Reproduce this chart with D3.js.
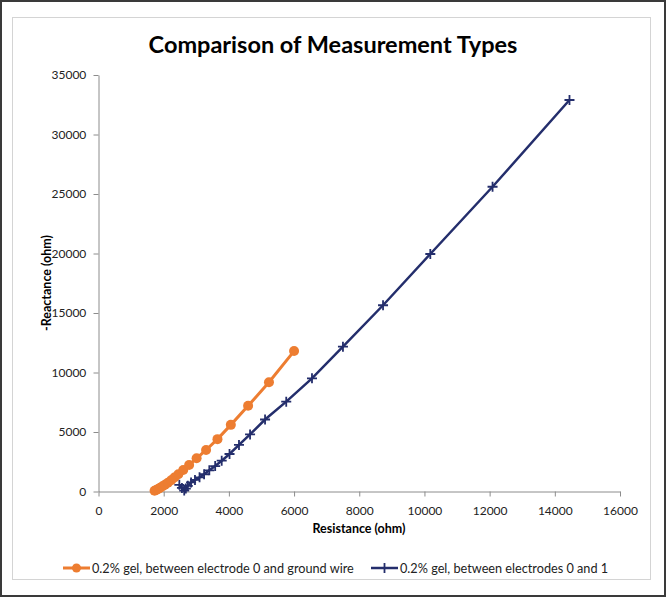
<!DOCTYPE html>
<html><head><meta charset="utf-8">
<script src="https://cdn.jsdelivr.net/npm/d3@7"></script>
<style>
html,body{margin:0;padding:0;background:#fff;}
svg{display:block;}
text{font-family:Lato,"Open Sans",sans-serif;}
</style></head>
<body>
<svg id="c" width="666" height="597"></svg>
<script>
const titleText = "Comparison of Measurement Types";
const xTitle = "Resistance (ohm)";
const yTitle = "-Reactance (ohm)";
const seriesNames = ["0.2% gel, between electrode 0 and ground wire", "0.2% gel, between electrodes 0 and 1"];
const xTicks = [0,2000,4000,6000,8000,10000,12000,14000,16000];
const yTicks = [0,5000,10000,15000,20000,25000,30000,35000];

const groundX = [1720,1770,1830,1890,1965,2040,2130,2230,2330,2450,2600,2780,3010,3300,3650,4060,4590,5230,6000];
const groundY = [60,130,210,310,440,570,740,940,1180,1450,1800,2230,2790,3490,4400,5600,7200,9180,11800];

const elecX = [2480,2560,2630,2680,2740,2840,2960,3100,3240,3400,3580,3780,4020,4310,4650,5110,5760,6550,7500,8730,10180,12090,14450];
const elecY = [560,300,80,250,480,760,970,1190,1450,1780,2140,2590,3150,3910,4800,6050,7550,9510,12170,15650,19960,25610,32900];

const orange = "#ED7D31", navy = "#242E6C";
const svg = d3.select("#c");

// frames
svg.append("rect").attr("x",1).attr("y",1).attr("width",664).attr("height",595)
  .attr("fill","#fff").attr("stroke","#3a3a3a").attr("stroke-width",2);
svg.append("rect").attr("x",12.5).attr("y",17.5).attr("width",638).attr("height",562)
  .attr("fill","none").attr("stroke","#d4d4d4").attr("stroke-width",1);

const x = d3.scaleLinear().domain([0,16000]).range([98.5,620]);
const y = d3.scaleLinear().domain([0,35000]).range([491.5,75]);

// title
svg.append("text").attr("x",333).attr("y",53).attr("text-anchor","middle")
  .attr("font-size",23.5).attr("font-weight","bold").attr("fill","#000").text(titleText);

// axes
const gx = svg.append("g").attr("transform",`translate(0,${y(0)})`)
  .call(d3.axisBottom(x).tickValues(xTicks).tickFormat(d3.format("d")).tickSize(5).tickSizeOuter(0));
const gy = svg.append("g").attr("transform",`translate(${x(0)},0)`)
  .call(d3.axisLeft(y).tickValues(yTicks).tickFormat(d3.format("d")).tickSize(5).tickSizeOuter(0));
[gx,gy].forEach(g=>{
  g.select(".domain").attr("stroke","#8c8c8c");
  g.selectAll(".tick line").attr("stroke","#8c8c8c");
  g.selectAll(".tick text").attr("fill","#222").attr("font-size",12).attr("font-family","Lato,'Open Sans',sans-serif");
});
gx.selectAll(".tick text").attr("dy","1.3em");
gy.selectAll(".tick text").attr("dx","-0.35em");

svg.append("text").attr("x",359).attr("y",533).attr("text-anchor","middle")
  .attr("font-size",12.5).attr("font-weight","bold").attr("fill","#000").text(xTitle);
svg.append("text").attr("transform","translate(51,283) rotate(-90)").attr("text-anchor","middle")
  .attr("font-size",12.5).attr("font-weight","bold").attr("fill","#000").text(yTitle);

const line = d3.line().x(d=>x(d[0])).y(d=>y(d[1]));
const gData = groundX.map((v,i)=>[v,groundY[i]]);
const eData = elecX.map((v,i)=>[v,elecY[i]]);

// electrode series (navy)
svg.append("path").datum(eData).attr("d",line).attr("fill","none").attr("stroke",navy).attr("stroke-width",2.5);
svg.append("g").selectAll("path").data(eData).join("path")
  .attr("transform",d=>`translate(${x(d[0])},${y(d[1])})`)
  .attr("d","M-5,0H5M0,-5V5").attr("stroke",navy).attr("stroke-width",1.8).attr("fill","none");

// ground series (orange)
svg.append("path").datum(gData).attr("d",line).attr("fill","none").attr("stroke",orange).attr("stroke-width",3);
svg.append("g").selectAll("circle").data(gData).join("circle")
  .attr("cx",d=>x(d[0])).attr("cy",d=>y(d[1])).attr("r",5).attr("fill",orange);

// legend
const lg = svg.append("g").attr("font-size",12.7);
lg.append("line").attr("x1",63).attr("x2",90).attr("y1",568).attr("y2",568).attr("stroke",orange).attr("stroke-width",3);
lg.append("circle").attr("cx",76.5).attr("cy",568).attr("r",4.5).attr("fill",orange);
lg.append("text").attr("x",92).attr("y",572.5).attr("fill","#222").text(seriesNames[0]);
lg.append("line").attr("x1",371).attr("x2",398).attr("y1",568).attr("y2",568).attr("stroke",navy).attr("stroke-width",2.5);
lg.append("path").attr("transform","translate(384.5,568)").attr("d","M-5,0H5M0,-5V5").attr("stroke",navy).attr("stroke-width",1.8);
lg.append("text").attr("x",400).attr("y",572.5).attr("fill","#222").text(seriesNames[1]);
</script>
</body></html>
